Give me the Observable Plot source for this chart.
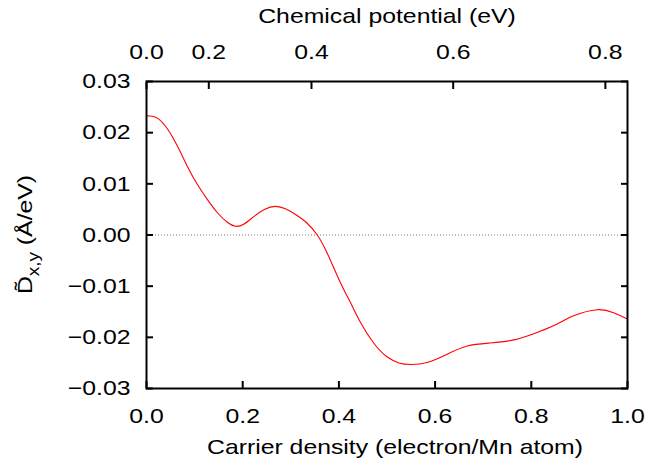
<!DOCTYPE html>
<html>
<head>
<meta charset="utf-8">
<script src="https://cdn.jsdelivr.net/npm/d3@7"></script>
<script src="https://cdn.jsdelivr.net/npm/@observablehq/plot@0.6"></script>
<style>
  body { margin: 0; background: #fff; }
</style>
</head>
<body>
<div id="chart"></div>
<script>
// Carrier density (electron/Mn atom) and D~_{x,y} (Å/eV)
const density = [0.000, 0.012, 0.025, 0.040, 0.055, 0.070, 0.085, 0.105, 0.126, 0.147, 0.168, 0.185, 0.202, 0.223, 0.245, 0.268, 0.290, 0.310, 0.334, 0.355, 0.375, 0.403, 0.424, 0.445, 0.473, 0.500, 0.525, 0.549, 0.584, 0.625, 0.667, 0.715, 0.764, 0.805, 0.847, 0.888, 0.937, 0.971, 1.000];
const dxy     = [0.0233, 0.0232, 0.0227, 0.0212, 0.0190, 0.0163, 0.0134, 0.0100, 0.0070, 0.0044, 0.0025, 0.0017, 0.0021, 0.0036, 0.0050, 0.0056, 0.0051, 0.0040, 0.0023, 0.0000, -0.0034, -0.0093, -0.0132, -0.0171, -0.0212, -0.0238, -0.0250, -0.0253, -0.0249, -0.0233, -0.0217, -0.0211, -0.0205, -0.0193, -0.0177, -0.0158, -0.0146, -0.0152, -0.0164];

// Axis ticks
const xTicks = [0, 0.2, 0.4, 0.6, 0.8, 1.0];
const yTicks = [-0.03, -0.02, -0.01, 0, 0.01, 0.02, 0.03];
// Top axis: chemical potential labels and the carrier density where each falls
const muLabels = ["0.0", "0.2", "0.4", "0.6", "0.8"];
const muAtDensity = [0, 0.1295, 0.343, 0.6376, 0.954];

const xTitle = "Carrier density (electron/Mn atom)";
const topTitle = "Chemical potential (eV)";

const data = density.map((d, i) => ({x: d, y: dxy[i]}));

const chart = Plot.plot({
  width: 647,
  height: 472,
  marginLeft: 146,
  marginRight: 20,
  marginTop: 81,
  marginBottom: 84,
  style: {fontFamily: "'Liberation Sans', Arial, sans-serif", fontSize: "21px", color: "black", background: "white"},
  x: {domain: [0, 1]},
  y: {domain: [-0.03, 0.03]},
  marks: [
    Plot.ruleY([0], {stroke: "#777", strokeWidth: 1, strokeDasharray: "1,2"}),
    Plot.line(data, {x: "x", y: "y", stroke: "#ff0000", strokeWidth: 1.1, curve: "natural"}),
    Plot.frame({stroke: "black", strokeWidth: 2}),
    Plot.axisX(xTicks, {anchor: "bottom", tickSize: -7, tickPadding: 27, strokeWidth: 2, tickFormat: d3.format(".1f"), label: null}),
    Plot.axisX(muAtDensity, {anchor: "top", tickSize: -7, tickPadding: 30, strokeWidth: 2, tickFormat: d => muLabels[muAtDensity.indexOf(d)], label: null}),
    Plot.axisY(yTicks, {anchor: "left", tickSize: -7, tickPadding: 23, strokeWidth: 2, tickFormat: d3.format(".2f"), label: null}),
    Plot.axisY(yTicks, {anchor: "right", tickSize: -7, strokeWidth: 2, tickFormat: () => "", label: null}),
    Plot.text([xTitle], {frameAnchor: "bottom", lineAnchor: "bottom", dy: 65, dx: 8, text: d => d}),
    Plot.text([topTitle], {frameAnchor: "top", lineAnchor: "bottom", dy: -59, text: d => d})
  ]
});

document.getElementById("chart").appendChild(chart);

// Y-axis title with subscript
const svg = d3.select(chart);
const yl = svg.append("text")
  .attr("transform", "translate(32,234.5) rotate(-90)")
  .attr("text-anchor", "middle")
  .attr("fill", "black")
  .style("font-size", "21px");
yl.append("tspan").text("D\u0303");
yl.append("tspan").attr("dy", 7).style("font-size", "16px").text("x,y");
yl.append("tspan").attr("dy", -7).text(" (Å/eV)");

// Widen glyphs to match the wide font of the original
chart.querySelectorAll("text").forEach(t => {
  const len = t.getComputedTextLength();
  if (len > 0) {
    t.setAttribute("textLength", (len * 1.18).toFixed(1));
    t.setAttribute("lengthAdjust", "spacingAndGlyphs");
  }
});
</script>
</body>
</html>
